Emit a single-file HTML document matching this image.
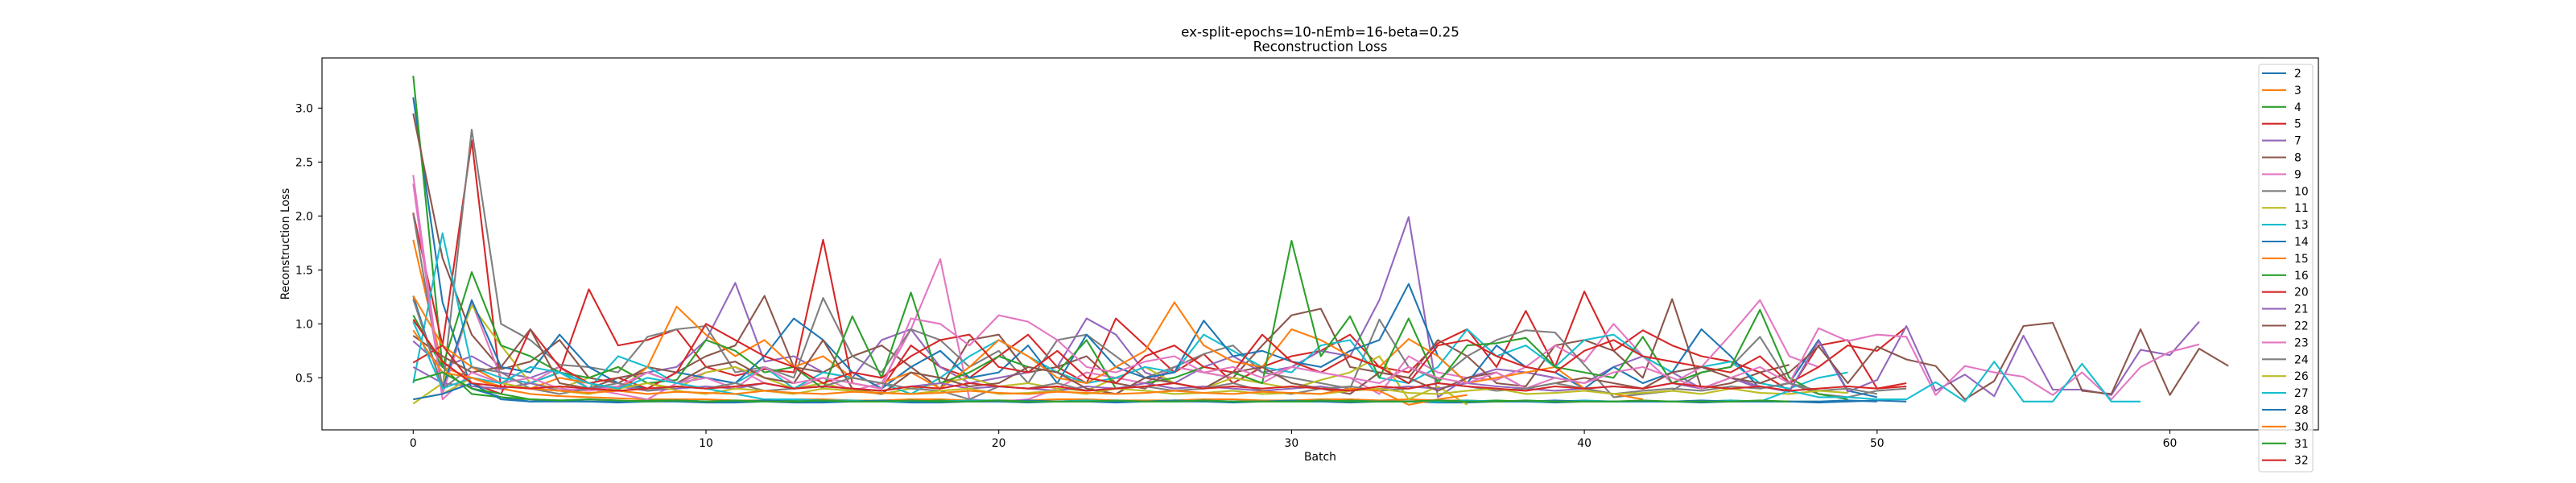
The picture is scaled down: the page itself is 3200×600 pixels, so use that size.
<!DOCTYPE html>
<html><head><meta charset="utf-8"><style>
html,body{margin:0;padding:0;background:#fff;}
svg{display:block;font-family:"DejaVu Sans","Liberation Sans",sans-serif;}
</style></head><body>
<svg id="chart" width="3200" height="600" viewBox="0 0 3200 600" xmlns="http://www.w3.org/2000/svg">
<rect x="0" y="0" width="3200" height="600" fill="#fff"/>
<text x="1640" y="45.5" text-anchor="middle" font-size="16.7">ex-split-epochs=10-nEmb=16-beta=0.25</text>
<text x="1640" y="63.5" text-anchor="middle" font-size="16.7">Reconstruction Loss</text>
<g id="series"></g>
<g id="axes"></g>
<g id="legend"></g>
<text x="1640" y="572" text-anchor="middle" font-size="13.9">Batch</text>
<text transform="translate(359,303) rotate(-90)" text-anchor="middle" font-size="13.9">Reconstruction Loss</text>
</svg>
<script>
const seriesNames = ["2","3","4","5","7","8","9","10","11","13","14","15","16","20","21","22","23","24","26","27","28","30","31","32"];
const xTicks = [0,10,20,30,40,50,60];
const yTicks = [0.5,1.0,1.5,2.0,2.5,3.0];
const yTickLabels = ["0.5","1.0","1.5","2.0","2.5","3.0"];

const s2 = [3.10,1.20,0.40,0.32,0.28,0.28,0.28,0.27,0.28,0.28,
 0.27,0.27,0.28,0.27,0.27,0.28,0.28,0.27,0.27,0.28,
 0.28,0.27,0.28,0.28,0.27,0.28,0.28,0.28,0.27,0.28,
 0.28,0.28,0.27,0.28,0.28,0.27,0.27,0.28,0.28,0.27,
 0.28,0.28,0.28,0.28,0.27,0.28,0.28,0.28,0.27,0.28,
 0.29,0.28];
const s3 = [1.78,0.60,0.50,0.40,0.35,0.33,0.32,0.31,0.30,0.30,
 0.30,0.29,0.29,0.30,0.30,0.29,0.29,0.30,0.30,0.29,
 0.29,0.29,0.30,0.30,0.29,0.29,0.29,0.30,0.30,0.29,
 0.29,0.30,0.30,0.29,0.30,0.29,0.29,0.28,0.28,0.28,
 0.28,0.28];
const s4 = [3.30,0.60,0.35,0.32,0.30,0.29,0.28,0.28,0.29,0.29,
 0.28,0.28,0.28,0.29,0.28,0.28,0.28,0.28,0.29,0.28,
 0.28,0.28,0.28,0.29,0.28,0.28,0.29,0.28,0.28,0.28,
 0.28,0.28,0.29,0.28,0.28,0.28,0.28,0.29,0.28,0.28,
 0.28,0.28,0.28,0.28,0.28,0.29,0.28,0.28,0.28];
const s5 = [2.03,0.80,2.70,0.40,0.45,0.55,1.32,0.80,0.85,0.95,
 0.60,0.52,0.58,0.55,1.78,0.45,0.40,0.80,0.60,0.50,
 0.70,0.90,0.60,0.45,1.05,0.80,0.55,0.72,0.45,0.60,
 0.70,0.75,0.90,0.60,0.55,0.82,0.95,0.60,1.12,0.60,
 1.30,0.75,0.94,0.80,0.70,0.65,0.55,0.38,0.80,0.85,
 0.40,0.45];
const s7 = [0.84,0.60,0.70,0.55,0.50,0.60,0.45,0.40,0.55,0.60,
 0.85,1.38,0.65,0.70,0.55,0.50,0.85,0.95,0.60,0.45,
 0.50,0.55,0.60,1.05,0.90,0.55,0.45,0.60,0.70,0.55,
 0.60,0.75,0.70,1.22,1.99,0.32,0.50,0.58,0.55,0.50,
 0.45,0.60,0.70,0.55,0.40,0.50,0.40,0.45];
const s8 = [2.95,1.61,0.90,0.58,0.65,0.85,0.50,0.45,0.60,0.55,
 0.70,0.80,1.26,0.60,0.55,0.70,0.80,0.60,0.40,0.85,
 0.90,0.55,0.60,0.70,0.45,0.40,0.60,0.55,0.50,0.80,
 1.08,1.14,0.60,0.55,0.50,0.85,0.70,0.45,0.42,0.80,
 0.85,0.75,0.50,1.23,0.40,0.45,0.55,0.62];
const s9 = [2.38,0.35,1.20,0.50,0.45,0.60,0.40,0.35,0.30,0.45,
 0.55,0.60,0.45,0.40,0.50,0.38,0.45,0.95,1.60,0.30,
 0.28,0.30,0.40,0.55,0.50,0.45,0.60,0.55,0.50,0.45,
 0.60,0.55,0.50,0.35,0.70,0.55,0.50,0.48,0.60,0.80,
 0.65,1.00,0.70,0.45,0.60,0.90,1.22,0.70,0.60];
const s10 = [2.02,0.40,2.80,1.00,0.85,0.62,0.60,0.55,0.88,0.95,
 0.98,0.55,0.60,0.50,1.24,0.70,0.55,0.95,0.85,0.60,
 0.75,0.45,0.85,0.90,0.70,0.50,0.60,0.72,0.80,0.55,
 0.50,0.45,0.40,1.04,0.60,0.48,0.70,0.85,0.94,0.92,
 0.62,0.32,0.35,0.38,0.55,0.60,0.88,0.45,0.35,0.32,
 0.38,0.40];
const s11 = [0.26,0.45,1.17,0.80,0.45,0.40,0.50,0.60,0.45,0.40,
 0.55,0.60,0.50,0.40,0.45,0.38,0.35,0.40,0.45,0.50,
 0.42,0.45,0.40,0.38,0.50,0.60,0.45,0.40,0.50,0.45,
 0.40,0.48,0.55,0.70,0.30,0.42,0.25];
const s13 = [0.45,1.84,0.60,0.50,0.45,0.55,0.40,0.70,0.60,0.45,
 0.50,0.45,0.60,0.40,0.55,0.50,0.45,0.35,0.50,0.70,
 0.85,0.70,0.55,0.45,0.50,0.60,0.55,0.90,0.75,0.60,
 0.55,0.80,0.85,0.50,0.45,0.60,0.95,0.70,0.80,0.60,
 0.85,0.90,0.70,0.55,0.60,0.65,0.45,0.40,0.50,0.55];
const s14 = [1.26,0.40,1.22,0.60,0.55,0.90,0.60,0.45,0.40,0.55,
 0.50,0.45,0.70,1.05,0.85,0.55,0.40,0.60,0.75,0.50,
 0.55,0.80,0.45,0.90,0.60,0.50,0.55,1.03,0.70,0.75,
 0.65,0.60,0.75,0.85,1.37,0.70,0.45,0.80,0.60,0.55,
 0.40,0.60,0.45,0.55,0.95,0.70,0.40,0.45,0.85,0.38,
 0.32];
const s15 = [1.26,0.80,0.60,0.45,0.40,0.50,0.45,0.38,0.60,1.16,
 0.90,0.70,0.85,0.60,0.70,0.50,0.45,0.55,0.40,0.60,
 0.85,0.70,0.50,0.45,0.60,0.75,1.20,0.80,0.65,0.60,
 0.95,0.85,0.70,0.60,0.86,0.70,0.45,0.50,0.55,0.60,
 0.40,0.35,0.30];
const s16 = [1.08,0.60,1.48,0.80,0.70,0.55,0.50,0.60,0.45,0.48,
 0.85,0.75,0.55,0.60,0.40,1.07,0.50,1.29,0.45,0.55,
 0.70,0.60,0.55,0.85,0.40,0.45,0.50,0.60,0.55,0.45,
 1.77,0.70,1.07,0.50,1.05,0.45,0.80,0.82,0.87,0.60,
 0.55,0.50,0.88,0.45,0.55,0.60,1.13,0.50,0.35,0.30];
const s20 = [0.64,0.80,0.45,0.35,0.95,0.60,0.45,0.50,0.40,0.55,
 1.00,0.85,0.70,0.60,0.45,0.55,0.50,0.70,0.85,0.90,
 0.60,0.55,0.75,0.50,0.45,0.70,0.80,0.60,0.55,0.90,
 0.65,0.55,0.70,0.60,0.45,0.80,0.85,0.70,0.60,0.55,
 0.75,0.85,0.70,0.65,0.60,0.55,0.70,0.45,0.60,0.80,
 0.75,0.97];
const s21 = [0.60,0.45,0.42,0.40,0.45,0.38,0.40,0.42,0.38,0.40,
 0.42,0.40,0.45,0.40,0.42,0.40,0.38,0.42,0.45,0.40,
 0.42,0.40,0.38,0.42,0.40,0.45,0.40,0.42,0.40,0.38,
 0.40,0.42,0.38,0.40,0.42,0.40,0.45,0.42,0.40,0.38,
 0.40,0.42,0.40,0.45,0.40,0.50,0.42,0.37,0.84,0.37,
 0.48,0.98,0.38,0.53,0.33,0.89,0.39,0.39,0.34,0.76,
 0.71,1.02];
const s22 = [0.89,0.70,0.55,0.60,0.95,0.45,0.40,0.50,0.55,0.45,
 0.60,0.65,0.50,0.45,0.85,0.40,0.35,0.55,0.50,0.42,
 0.45,0.60,0.55,0.40,0.35,0.50,0.45,0.40,0.55,0.60,
 0.45,0.40,0.35,0.55,0.50,0.38,0.50,0.55,0.40,0.45,
 0.50,0.45,0.40,0.55,0.60,0.50,0.45,0.55,0.79,0.45,
 0.79,0.67,0.61,0.30,0.47,0.98,1.01,0.38,0.35,0.95,
 0.34,0.77,0.61];
const s23 = [2.30,0.30,0.55,0.45,0.50,0.40,0.38,0.42,0.55,0.45,
 0.50,0.40,0.60,0.45,0.50,0.45,0.40,1.05,1.00,0.80,
 1.08,1.02,0.85,0.60,0.55,0.65,0.70,0.55,0.60,0.50,
 0.60,0.55,0.50,0.45,0.60,0.50,0.45,0.55,0.40,0.50,
 0.45,0.55,0.60,0.50,0.40,0.50,0.60,0.45,0.96,0.84,
 0.90,0.88,0.34,0.61,0.55,0.51,0.34,0.55,0.30,0.60,
 0.74,0.81];
const s24 = [1.23,0.40,0.60,0.55,0.40,0.35,0.40,0.45,0.38,0.42,
 0.40,0.45,0.38,0.40,0.42,0.50,0.45,0.40,0.38,0.30,
 0.42,0.40,0.45,0.38,0.40,0.42,0.38,0.40,0.45,0.38,
 0.35,0.40,0.42,0.38,0.40,0.45,0.42,0.38,0.40,0.45,
 0.40,0.35,0.38,0.40,0.38,0.42,0.40,0.45,0.38,0.40,
 0.35];
const s26 = [0.30,0.35,0.50,0.45,0.40,0.38,0.35,0.40,0.45,0.38,
 0.35,0.40,0.38,0.35,0.40,0.38,0.36,0.35,0.38,0.40,
 0.35,0.36,0.38,0.35,0.40,0.38,0.35,0.36,0.38,0.35,
 0.36,0.35,0.38,0.40,0.36,0.35,0.38,0.40,0.35,0.36,
 0.38,0.35,0.36,0.38,0.35,0.40,0.36,0.35,0.38,0.36];
const s27 = [1.02,0.40,0.50,0.45,0.60,0.55,0.45,0.40,0.50,0.45,
 0.40,0.35,0.30,0.30,0.29,0.29,0.28,0.28,0.28,0.29,
 0.29,0.28,0.28,0.29,0.28,0.28,0.28,0.29,0.28,0.28,
 0.28,0.29,0.28,0.28,0.28,0.28,0.29,0.28,0.28,0.28,
 0.29,0.28,0.28,0.28,0.28,0.29,0.28,0.38,0.32,0.32,
 0.30,0.30,0.46,0.28,0.65,0.28,0.28,0.63,0.28,0.28];
const s28 = [0.30,0.35,0.45,0.30,0.28,0.29,0.28,0.28,0.28,0.29,
 0.28,0.28,0.29,0.28,0.28,0.28,0.29,0.28,0.28,0.28,
 0.28,0.29,0.28,0.28,0.28,0.28,0.29,0.28,0.28,0.28,
 0.29,0.28,0.28,0.28,0.28,0.29,0.28,0.28,0.28,0.29,
 0.28,0.28,0.28,0.28,0.29,0.28,0.28,0.28,0.28,0.29,
 0.28];
const s30 = [0.94,0.55,0.50,0.42,0.40,0.38,0.36,0.38,0.35,0.37,
 0.36,0.35,0.38,0.36,0.35,0.37,0.36,0.35,0.36,0.38,
 0.36,0.35,0.37,0.36,0.35,0.36,0.38,0.36,0.35,0.37,
 0.36,0.35,0.40,0.38,0.25,0.30,0.34];
const s31 = [0.47,0.55,0.40,0.35,0.30,0.29,0.30,0.29,0.28,0.29,
 0.28,0.29,0.28,0.28,0.29,0.28,0.28,0.29,0.28,0.28,
 0.29,0.28,0.28,0.28,0.29,0.28,0.28,0.29,0.28,0.28,
 0.28,0.29,0.28,0.28,0.28,0.29,0.28,0.28,0.29,0.28,
 0.28,0.28,0.29,0.28,0.28,0.28,0.29,0.28];
const s32 = [1.04,0.65,0.45,0.42,0.40,0.42,0.40,0.38,0.40,0.42,
 0.40,0.42,0.45,0.40,0.42,0.40,0.38,0.42,0.40,0.45,
 0.42,0.40,0.42,0.38,0.40,0.42,0.45,0.40,0.42,0.40,
 0.42,0.40,0.38,0.42,0.40,0.45,0.42,0.40,0.38,0.42,
 0.40,0.42,0.40,0.45,0.42,0.40,0.42,0.38,0.40,0.42,
 0.40,0.42];

const seriesValues = [s2,s3,s4,s5,s7,s8,s9,s10,s11,s13,s14,s15,s16,s20,s21,s22,s23,s24,s26,s27,s28,s30,s31,s32];
const palette = ["#1f77b4","#ff7f0e","#2ca02c","#d62728","#9467bd","#8c564b","#e377c2","#7f7f7f","#bcbd22","#17becf"];

const AX = {left:400, right:2880, top:72, bottom:534};
function xScale(b){ return 513.3 + b*36.37; }
function yScale(v){ return 536.3 - v*134; }
const NS = "http://www.w3.org/2000/svg";
function mk(tag, attrs){ const e=document.createElementNS(NS,tag); for(const k in attrs) e.setAttribute(k,attrs[k]); return e; }

const gS = document.getElementById('series');
seriesValues.forEach((vals,i)=>{
  const pts = vals.map((v,j)=>xScale(j).toFixed(1)+','+yScale(v).toFixed(1)).join(' ');
  const pl = mk('polyline',{points:pts,fill:'none',stroke:palette[i%10],'stroke-width':2.1,'stroke-linejoin':'round'});
  
  
  gS.appendChild(pl);
});

const gA = document.getElementById('axes');
const frame = mk('rect',{x:AX.left,y:AX.top,width:AX.right-AX.left,height:AX.bottom-AX.top,fill:'none',stroke:'#000','stroke-width':1.1});


gA.appendChild(frame);
xTicks.forEach(t=>{
  const x = xScale(t);
  const tk = mk('line',{x1:x,x2:x,y1:AX.bottom,y2:AX.bottom+4.9,stroke:'#000','stroke-width':1.1});
  
  
  gA.appendChild(tk);
  const lb = mk('text',{x:x,y:555,'text-anchor':'middle','font-size':13.9});
  lb.textContent = String(t);
  
  
  gA.appendChild(lb);
});
yTicks.forEach((t,i)=>{
  const y = yScale(t);
  const tk = mk('line',{x1:AX.left-4.9,x2:AX.left,y1:y,y2:y,stroke:'#000','stroke-width':1.1});
  
  
  gA.appendChild(tk);
  const lb = mk('text',{x:389,y:y+5,'text-anchor':'end','font-size':13.9});
  lb.textContent = yTickLabels[i];
  
  
  gA.appendChild(lb);
});

const gL = document.getElementById('legend');
const box = mk('rect',{x:2806,y:80,width:67,height:506,rx:3,fill:'#fff','fill-opacity':0.8,stroke:'#cccccc','stroke-width':1});


gL.appendChild(box);
seriesNames.forEach((n,i)=>{
  const y = 91 + i*20.9;
  const g = mk('g',{});
  
  
  g.appendChild(mk('line',{x1:2810,x2:2840,y1:y,y2:y,stroke:palette[i%10],'stroke-width':2.1}));
  const t = mk('text',{x:2850,y:y+5,'font-size':13.9});
  t.textContent = n;
  g.appendChild(t);
  gL.appendChild(g);
});
</script>
</body></html>
